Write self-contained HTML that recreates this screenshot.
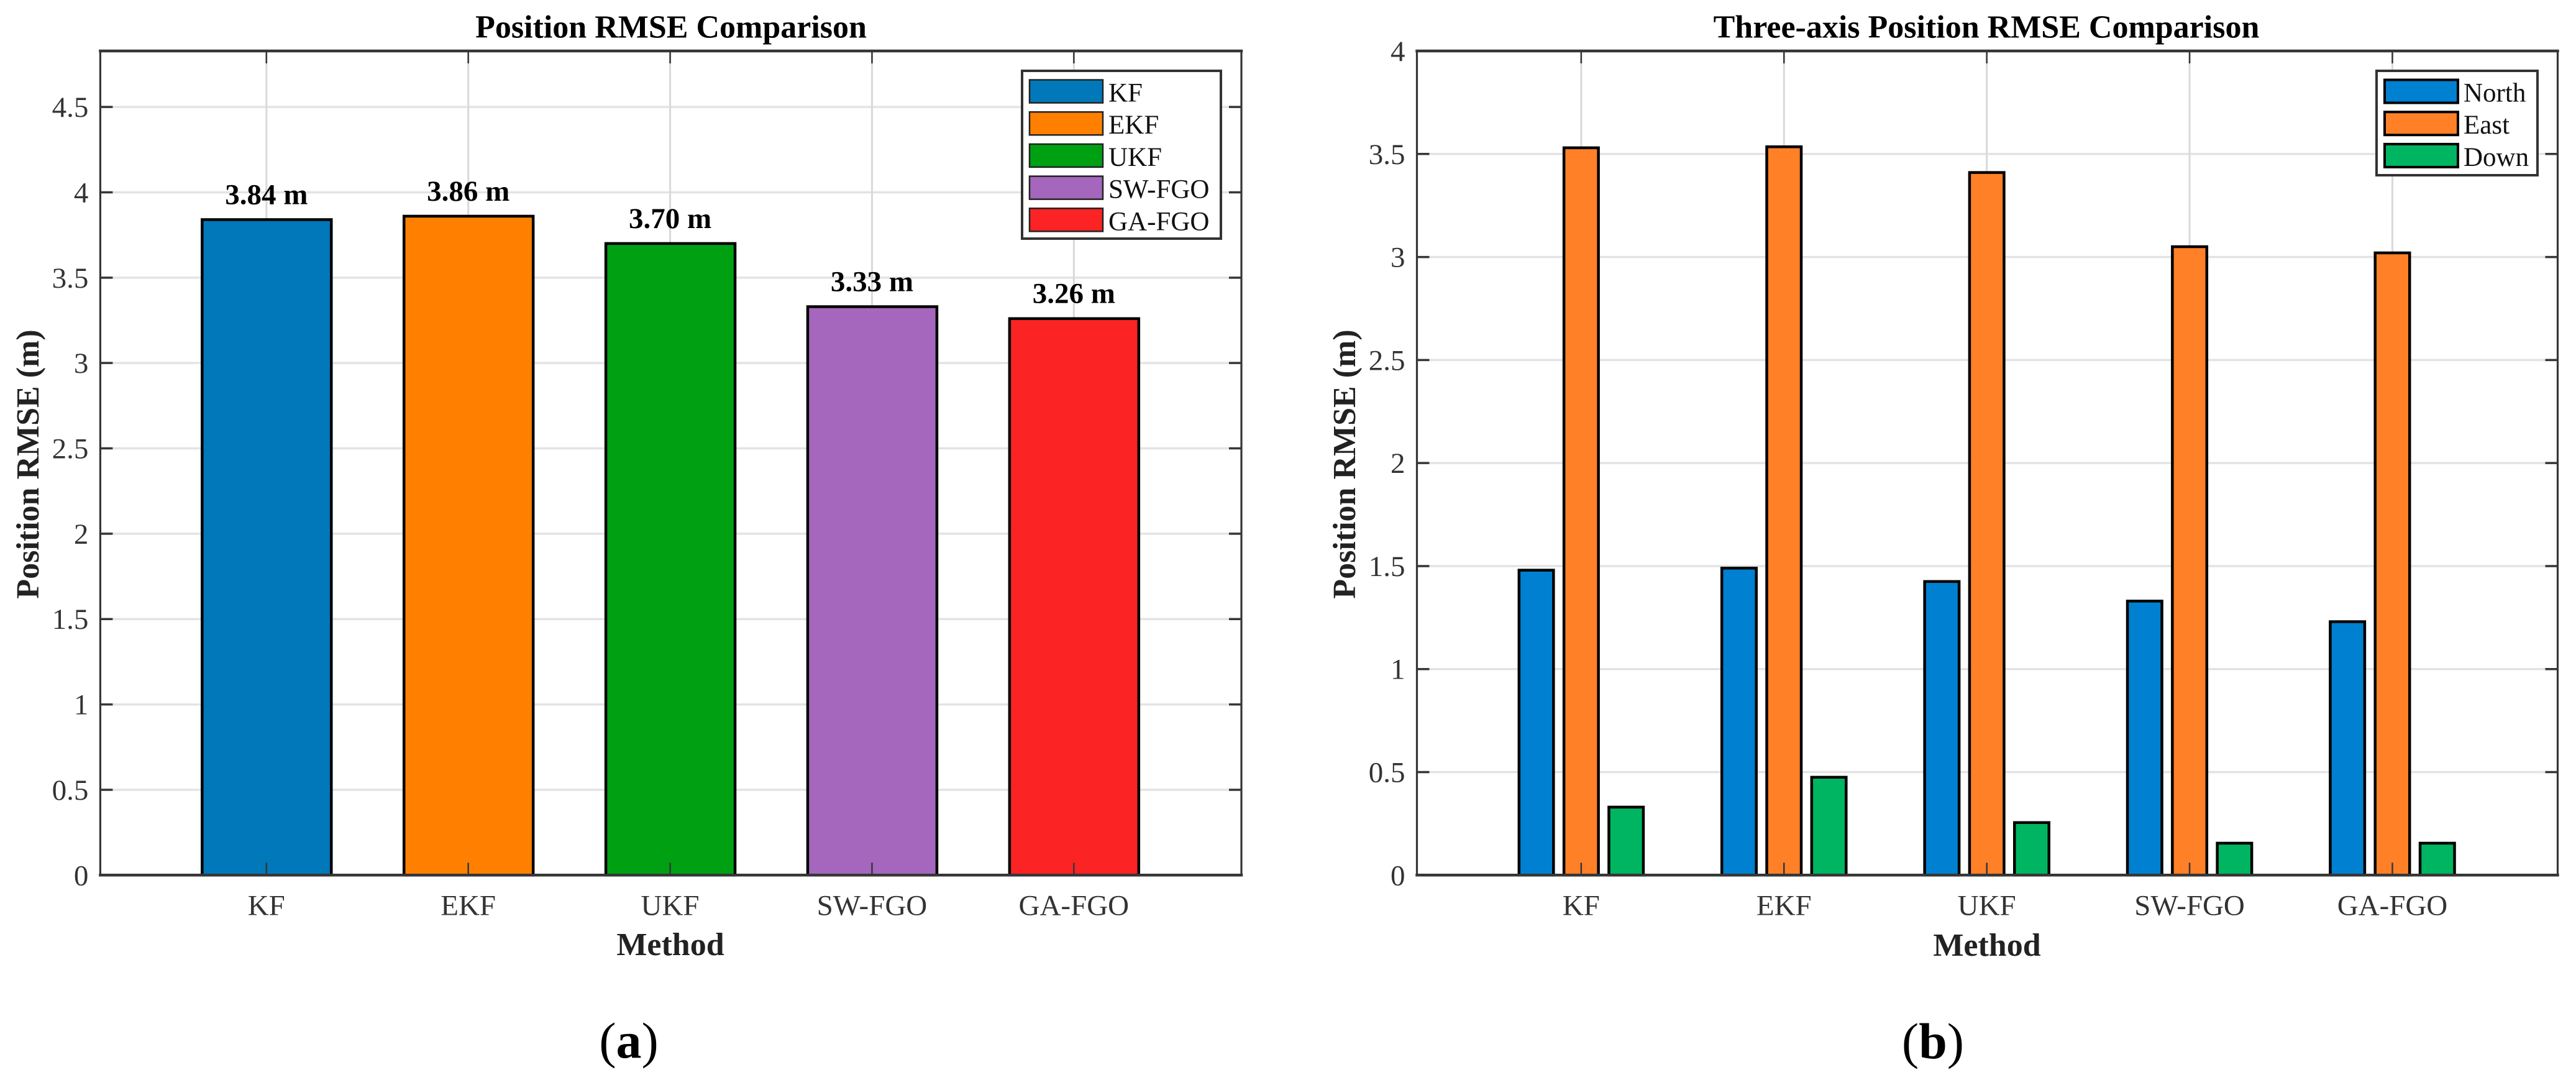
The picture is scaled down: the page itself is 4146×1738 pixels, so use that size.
<!DOCTYPE html>
<html lang="en">
<head>
<meta charset="utf-8">
<title>Position RMSE Comparison</title>
<style>
html,body{margin:0;padding:0;background:#fff;width:4146px;height:1738px;overflow:hidden}
svg{display:block}
text{font-family:"Liberation Serif","Times New Roman",serif}
.title,.axis-title,.value{font-weight:bold;font-size:52px;text-anchor:middle}
.title{fill:#000}
.axis-title{fill:#222}
.value{font-size:47px;fill:#000}
.tick{font-size:47px;fill:#333}
.leg{font-size:43px;fill:#111}
.cap{font-size:82px;fill:#000;text-anchor:middle}
</style>
</head>
<body>
<svg id="figure" xmlns="http://www.w3.org/2000/svg" width="4146" height="1738" viewBox="0 0 4146 1738">
  <rect x="0" y="0" width="4146" height="1738" fill="#ffffff"/>
  <g id="panel-a"></g>
  <g id="panel-b"></g>
  <text class="title" x="1080" y="60.5">Position RMSE Comparison</text>
  <text class="title" x="3197" y="60.5">Three-axis Position RMSE Comparison</text>
  <text class="axis-title" x="1079" y="1537">Method</text>
  <text class="axis-title" x="3198" y="1538">Method</text>
  <text class="axis-title" transform="translate(62 747) rotate(-90)">Position RMSE (m)</text>
  <text class="axis-title" transform="translate(2181 747) rotate(-90)">Position RMSE (m)</text>
  <text class="cap" x="1012" y="1702">(<tspan font-weight="bold">a</tspan>)</text>
  <text class="cap" x="3111" y="1703">(<tspan font-weight="bold">b</tspan>)</text>
</svg>
<script>
const categoriesA = ['KF', 'EKF', 'UKF', 'SW-FGO', 'GA-FGO'];
const rmseA = [3.84, 3.86, 3.70, 3.33, 3.26];
const yTicksA = [0, 0.5, 1, 1.5, 2, 2.5, 3, 3.5, 4, 4.5];

const categoriesB = ['KF', 'EKF', 'UKF', 'SW-FGO', 'GA-FGO'];
const seriesNamesB = ['North', 'East', 'Down'];
const northB = [1.48, 1.49, 1.425, 1.33, 1.23];
const eastB = [3.53, 3.535, 3.41, 3.05, 3.02];
const downB = [0.33, 0.475, 0.255, 0.155, 0.155];
const yTicksB = [0, 0.5, 1, 1.5, 2, 2.5, 3, 3.5, 4];

const coloursA = ['#0078b9', '#ff8000', '#00a013', '#a566be', '#fb2323'];
const coloursB = ['#0080d0', '#ff8027', '#00b561'];

const SVG_NS = 'http://www.w3.org/2000/svg';

function linear(d0, d1, r0, r1) {
  return function (v) { return r0 + (v - d0) * (r1 - r0) / (d1 - d0); };
}

function make(tag, attrs, parent) {
  const el = document.createElementNS(SVG_NS, tag);
  for (const k in attrs) el.setAttribute(k, attrs[k]);
  parent.appendChild(el);
  return el;
}

function drawGrid(g, box, xs, yTicks, x, y, prefix) {
  yTicks.forEach(function (t) {
    if (t === 0 || y(t) <= box.top + 1) return;
    const line = make('line', {x1: box.left, x2: box.right, y1: y(t), y2: y(t), stroke: '#e3e3e3', 'stroke-width': 3.5}, g);
    
    
  });
  xs.forEach(function (_, i) {
    const line = make('line', {x1: x(i + 1), x2: x(i + 1), y1: box.top, y2: box.bottom, stroke: '#d9d9d9', 'stroke-width': 3}, g);
    
    
  });
}

function drawFrame(g, box, xs, yTicks, x, y, prefix) {
  const axisColour = '#363636';
  const sides = [
    [box.left, box.top, box.right, box.top, 4.5, 'top'],
    [box.left, box.bottom, box.right, box.bottom, 4.5, 'bottom'],
    [box.left, box.top, box.left, box.bottom, 3.2, 'left'],
    [box.right, box.top, box.right, box.bottom, 3.2, 'right']
  ];
  sides.forEach(function (s) {
    const line = make('line', {x1: s[0], y1: s[1], x2: s[2], y2: s[3], stroke: axisColour, 'stroke-width': s[4], 'stroke-linecap': 'square'}, g);
    
    
  });
  yTicks.forEach(function (t) {
    [[box.left, box.left + 20], [box.right, box.right - 20]].forEach(function (p) {
      const tick = make('line', {x1: p[0], x2: p[1], y1: y(t), y2: y(t), stroke: axisColour, 'stroke-width': 3.5}, g);
      
      
    });
    const label = make('text', {x: box.left - 19, y: y(t) + 16, 'text-anchor': 'end', 'class': 'tick'}, g);
    label.textContent = String(t);
    
    
  });
  xs.forEach(function (name, i) {
    [[box.top, box.top + 20], [box.bottom, box.bottom - 20]].forEach(function (p) {
      const tick = make('line', {x1: x(i + 1), x2: x(i + 1), y1: p[0], y2: p[1], stroke: axisColour, 'stroke-width': 2.5}, g);
      
      
    });
    const label = make('text', {x: x(i + 1), y: box.bottom + 64, 'text-anchor': 'middle', 'class': 'tick'}, g);
    label.textContent = name;
    
    
  });
}

function drawLegend(g, box, names, colours, swatchStroke, swatchStrokeWidth, prefix) {
  const frame = make('rect', {x: box.x, y: box.y, width: box.w, height: box.h, fill: '#fff', stroke: '#333', 'stroke-width': 4}, g);
  
  
  names.forEach(function (name, i) {
    const top = box.y + 14.5 + i * 51.7;
    const swatch = make('rect', {x: box.sx, y: top, width: box.sw, height: 37, fill: colours[i], stroke: swatchStroke, 'stroke-width': swatchStrokeWidth}, g);
    
    
    const label = make('text', {x: box.tx, y: top + 35, 'class': 'leg'}, g);
    label.textContent = name;
    
    
  });
}

/* Panel (a) */
(function () {
  const g = document.getElementById('panel-a');
  const box = {left: 161.4, right: 1998, top: 82, bottom: 1408.3};
  const x = linear(0.177, 5.83, box.left, box.right);
  const y = linear(0, 4.828, box.bottom, box.top);
  const barWidth = x(1.64) - x(1);
  drawGrid(g, box, categoriesA, yTicksA, x, y, 'panel-a');
  rmseA.forEach(function (v, i) {
    const bar = make('rect', {x: x(i + 1) - barWidth / 2 + 0.5, y: y(v), width: barWidth, height: y(0) - y(v), fill: coloursA[i], stroke: '#000', 'stroke-width': 4.5}, g);
    
    
    const label = make('text', {x: x(i + 1), y: y(v) - 25, 'class': 'value'}, g);
    label.textContent = v.toFixed(2) + ' m';
    
    
  });
  drawFrame(g, box, categoriesA, yTicksA, x, y, 'panel-a');
  drawLegend(g, {x: 1645, y: 114, w: 320, h: 270, sx: 1657, sw: 118, tx: 1784}, categoriesA, coloursA, '#222', 2.5, 'panel-a');
})();

/* Panel (b) */
(function () {
  const g = document.getElementById('panel-b');
  const box = {left: 2280.5, right: 4116.5, top: 82, bottom: 1408.3};
  const x = linear(0.19, 5.815, box.left, box.right);
  const y = linear(0, 4, box.bottom, box.top);
  const barWidth = x(1.17) - x(1);
  const seriesValues = [northB, eastB, downB];
  drawGrid(g, box, categoriesB, yTicksB, x, y, 'panel-b');
  seriesValues.forEach(function (values, s) {
    values.forEach(function (v, i) {
      const centre = x(i + 1 + (s - 1) * 0.2215);
      const bar = make('rect', {x: centre - barWidth / 2, y: y(v), width: barWidth, height: y(0) - y(v), fill: coloursB[s], stroke: '#000', 'stroke-width': 4.5}, g);
      
      
    });
  });
  drawFrame(g, box, categoriesB, yTicksB, x, y, 'panel-b');
  drawLegend(g, {x: 3825, y: 114, w: 259, h: 168, sx: 3838, sw: 118, tx: 3965}, seriesNamesB, coloursB, '#000', 4, 'panel-b');
})();
</script>
</body>
</html>
